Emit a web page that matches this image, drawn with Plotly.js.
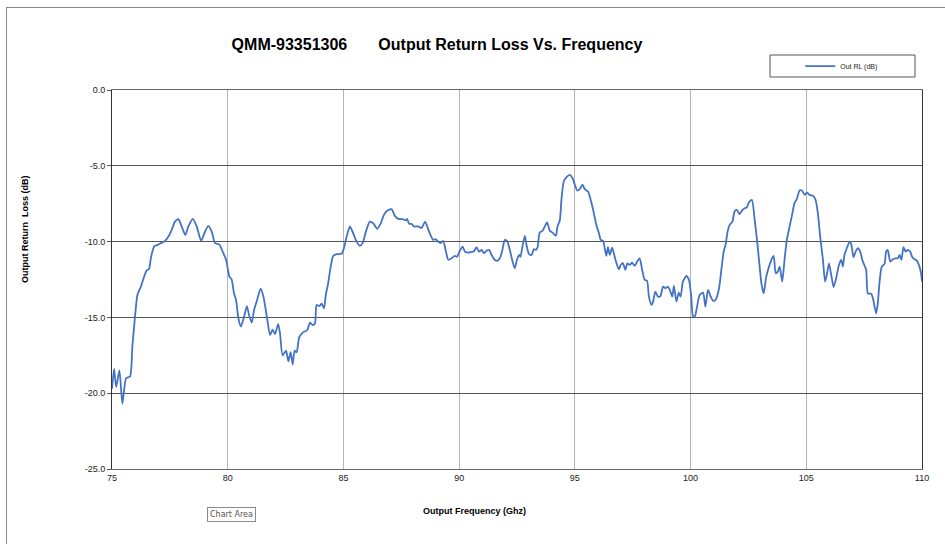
<!DOCTYPE html>
<html>
<head>
<meta charset="utf-8">
<script src="https://cdn.plot.ly/plotly-3.0.1.min.js"></script>
<style>
  html, body { margin: 0; padding: 0; background: #ffffff; }
  #chart { width: 945px; height: 544px; position: relative; }
  #frame { position: absolute; left: 6px; top: 7px; width: 960px; height: 560px;
           border-left: 1px solid #8a8a8a; border-top: 1px solid #8a8a8a; pointer-events: none; }
</style>
</head>
<body>
<div id="chart"></div>
<div id="frame"></div>
<script>
// Frequency (GHz)
const freq = [
  75.00, 75.09, 75.18, 75.32, 75.45, 75.61, 75.78, 75.88, 75.98, 76.10,
  76.24, 76.39, 76.50, 76.60, 76.69, 76.83, 77.00, 77.15, 77.26, 77.44,
  77.58, 77.72, 77.87, 78.01, 78.17, 78.30, 78.49, 78.66, 78.85, 78.99,
  79.16, 79.31, 79.45, 79.64, 79.78, 79.93, 80.07, 80.17, 80.27, 80.36,
  80.46, 80.57, 80.70, 80.83, 80.92, 81.04, 81.14, 81.25, 81.42, 81.54,
  81.68, 81.83, 81.94, 82.04, 82.18, 82.26, 82.37, 82.52, 82.62, 82.72,
  82.81, 82.89, 82.98, 83.09, 83.24, 83.44, 83.55, 83.67, 83.77, 83.84,
  83.96, 84.06, 84.16, 84.24, 84.34, 84.45, 84.56, 84.71, 84.92, 85.02,
  85.14, 85.28, 85.42, 85.57, 85.71, 85.83, 85.97, 86.14, 86.29, 86.46,
  86.61, 86.75, 86.89, 87.08, 87.22, 87.37, 87.56, 87.70, 87.75, 87.84,
  87.94, 88.04, 88.23, 88.38, 88.53, 88.70, 88.88, 88.98, 89.09, 89.20,
  89.31, 89.43, 89.53, 89.67, 89.81, 89.91, 90.03, 90.15, 90.25, 90.39,
  90.54, 90.63, 90.75, 90.86, 90.97, 91.07, 91.18, 91.30, 91.40, 91.54,
  91.64, 91.76, 91.87, 91.97, 92.07, 92.19, 92.29, 92.40, 92.50, 92.59,
  92.65, 92.74, 92.84, 92.91, 93.02, 93.13, 93.23, 93.31, 93.39, 93.48,
  93.60, 93.70, 93.80, 93.92, 94.03, 94.18, 94.25, 94.35, 94.42, 94.52,
  94.64, 94.78, 94.90, 95.00, 95.10, 95.21, 95.33, 95.43, 95.57, 95.72,
  95.82, 95.93, 96.04, 96.12, 96.22, 96.29, 96.36, 96.43, 96.51, 96.61,
  96.72, 96.80, 96.90, 96.98, 97.08, 97.18, 97.27, 97.37, 97.47, 97.59,
  97.69, 97.80, 97.91, 98.02, 98.12, 98.20, 98.31, 98.38, 98.48, 98.59,
  98.70, 98.81, 98.92, 99.02, 99.13, 99.21, 99.28, 99.39, 99.49, 99.57,
  99.67, 99.82, 99.93, 100.03, 100.10, 100.18, 100.28, 100.39, 100.54, 100.64,
  100.75, 100.86, 100.97, 101.08, 101.23, 101.33, 101.43, 101.52, 101.60, 101.69,
  101.81, 101.90, 102.00, 102.12, 102.24, 102.34, 102.43, 102.52, 102.65, 102.77,
  102.87, 102.95, 103.06, 103.16, 103.27, 103.39, 103.49, 103.59, 103.68, 103.77,
  103.85, 103.96, 104.06, 104.16, 104.28, 104.40, 104.49, 104.59, 104.71, 104.81,
  104.93, 105.03, 105.14, 105.29, 105.40, 105.50, 105.60, 105.72, 105.81, 105.90,
  105.98, 106.09, 106.18, 106.29, 106.41, 106.51, 106.58, 106.65, 106.75, 106.87,
  106.94, 107.04, 107.13, 107.23, 107.33, 107.42, 107.52, 107.59, 107.66, 107.81,
  107.88, 107.95, 108.02, 108.09, 108.16, 108.26, 108.38, 108.45, 108.52, 108.63,
  108.74, 108.86, 108.96, 109.03, 109.11, 109.20, 109.29, 109.39, 109.49, 109.58,
  109.68, 109.78, 109.89, 109.96, 110.00
];
// Output return loss (dB)
const outRL = [
  -19.7, -18.4, -19.6, -18.5, -20.7, -19.0, -18.9, -16.9, -15.2, -13.5,
  -13.0, -12.3, -11.9, -11.8, -11.0, -10.3, -10.2, -10.07, -10.0, -9.67,
  -9.23, -8.68, -8.52, -9.0, -9.56, -9.0, -8.5, -9.0, -9.95, -9.45,
  -8.96, -9.34, -10.1, -10.2, -10.66, -11.2, -12.3, -12.5, -13.4, -13.85,
  -15.06, -15.6, -15.0, -14.25, -14.84, -15.35, -14.5, -13.96, -13.1, -13.6,
  -14.84, -16.16, -15.8, -16.1, -15.44, -16.05, -17.5, -17.2, -17.9, -17.3,
  -18.1, -17.2, -17.3, -16.3, -16.0, -15.83, -15.35, -15.5, -15.4, -14.18,
  -14.25, -14.1, -14.4, -13.5, -12.75, -11.65, -10.94, -10.83, -10.8, -10.44,
  -9.67, -9.0, -9.45, -10.0, -10.28, -10.1, -9.34, -8.68, -8.8, -9.16,
  -8.8, -8.24, -7.97, -7.86, -8.3, -8.5, -8.52, -8.6, -8.5, -8.83,
  -8.83, -9.0, -9.0, -9.1, -8.68, -9.34, -9.89, -9.84, -10.0, -10.1,
  -9.95, -10.66, -11.2, -11.1, -10.94, -11.0, -10.6, -10.33, -10.66, -10.73,
  -10.68, -10.66, -10.37, -10.66, -10.55, -10.77, -10.6, -10.55, -10.88, -11.2,
  -11.27, -11.1, -10.55, -9.89, -9.95, -10.55, -11.2, -11.76, -11.2, -10.88,
  -11.0, -10.28, -9.62, -10.22, -10.83, -10.88, -10.5, -10.55, -10.37, -9.4,
  -9.29, -9.0, -8.74, -9.29, -9.4, -9.62, -9.0, -8.61, -7.25, -6.04,
  -5.75, -5.6, -5.81, -6.25, -6.63, -6.54, -6.25, -6.54, -6.7, -7.46,
  -8.12, -8.9, -9.45, -9.89, -9.95, -10.44, -10.94, -10.37, -10.88, -10.4,
  -11.0, -11.43, -11.83, -11.54, -11.43, -11.87, -11.43, -11.54, -11.39, -11.6,
  -11.32, -11.1, -11.87, -12.53, -12.58, -13.63, -14.18, -13.96, -13.3, -13.63,
  -13.59, -12.97, -13.08, -12.97, -13.3, -13.63, -12.93, -13.96, -13.37, -13.63,
  -12.64, -12.27, -12.53, -13.63, -14.9, -14.95, -14.29, -13.52, -13.37, -14.29,
  -13.19, -13.59, -13.9, -13.85, -13.08, -11.87, -10.66, -10.15, -9.34, -8.9,
  -8.68, -8.02, -7.91, -8.19, -7.91, -7.8, -7.75, -7.4, -7.25, -8.57,
  -9.89, -11.1, -12.75, -13.41, -12.31, -11.65, -11.2, -10.94, -12.09, -11.98,
  -11.65, -12.64, -11.2, -9.89, -9.0, -8.12, -7.46, -7.2, -6.63, -6.63,
  -6.92, -6.76, -6.92, -6.98, -7.25, -8.12, -9.67, -11.2, -12.64, -12.09,
  -11.43, -12.31, -13.0, -12.42, -11.54, -11.2, -11.65, -10.88, -10.44, -10.0,
  -10.15, -11.03, -10.66, -10.44, -10.66, -11.2, -11.6, -11.87, -13.41, -13.45,
  -13.74, -14.29, -14.73, -14.07, -12.75, -11.65, -11.47, -10.66, -10.55, -11.32,
  -11.16, -11.1, -11.1, -10.88, -11.2, -10.37, -10.66, -10.55, -10.66, -11.03,
  -11.16, -11.25, -11.65, -12.09, -12.64
];
const xTicks = [75, 80, 85, 90, 95, 100, 105, 110];
const yTicks = [-25, -20, -15, -10, -5, 0];
const yTickText = ["-25.0", "-20.0", "-15.0", "-10.0", "-5.0", "0.0"];

const font = "Liberation Sans, Arial, sans-serif";

const data = [{
  x: freq,
  y: outRL,
  type: "scatter",
  mode: "lines",
  name: "Out RL (dB)",
  line: { color: "#4472C4", width: 1.8, shape: "spline", smoothing: 0.6 }
}];

const layout = {
  width: 945,
  height: 544,
  margin: { l: 112, r: 23, t: 90, b: 75 },
  paper_bgcolor: "#ffffff",
  plot_bgcolor: "#ffffff",
  font: { family: font, color: "#222" },
  title: {
    text: "<b>QMM-93351306\u00a0\u00a0\u00a0\u00a0\u00a0\u00a0\u00a0Output Return Loss Vs. Frequency</b>",
    font: { family: font, size: 16, color: "#000" },
    xref: "container", x: 437 / 945, xanchor: "center",
    yref: "container", y: 1 - 44 / 544, yanchor: "middle"
  },
  showlegend: true,
  legend: {
    x: 0.8497, xanchor: "left", y: 1.063, yanchor: "middle",
    bgcolor: "rgba(0,0,0,0)", borderwidth: 0,
    font: { family: font, size: 7, color: "#222" },
    itemwidth: 30
  },
  xaxis: {
    range: [75, 110],
    tickvals: xTicks,
    ticktext: xTicks.map(String),
    showgrid: true, gridcolor: "#b4b4b4", gridwidth: 1,
    zeroline: false,
    showline: true, linecolor: "#666", linewidth: 1, mirror: true,
    ticks: "", tickfont: { family: font, size: 9, color: "#222" },
    fixedrange: true
  },
  yaxis: {
    range: [-25, 0],
    tickvals: yTicks,
    ticktext: yTickText,
    showgrid: true, gridcolor: "#555", gridwidth: 1,
    zeroline: false,
    showline: true, linecolor: "#333", linewidth: 1, mirror: true,
    ticks: "outside", ticklen: 4, tickcolor: "#555",
    tickfont: { family: font, size: 9, color: "#222" },
    fixedrange: true
  },
  shapes: [{
    type: "rect", xref: "paper", yref: "paper",
    x0: (770 - 112) / 810, x1: (915 - 112) / 810,
    y0: (469 - 77) / 379, y1: (469 - 55) / 379,
    line: { color: "#555", width: 1 }, fillcolor: "rgba(0,0,0,0)"
  }],
  annotations: [
    {
      text: "<b>Output Frequency (Ghz)</b>",
      xref: "paper", yref: "paper", x: (474 - 112) / 810, y: (469 - 511) / 379,
      xanchor: "center", yanchor: "middle", showarrow: false,
      font: { family: font, size: 9, color: "#000" }
    },
    {
      text: "<b>Output Return  Loss (dB)</b>",
      xref: "paper", yref: "paper", x: (25 - 112) / 810, y: (469 - 229) / 379,
      xanchor: "center", yanchor: "middle", showarrow: false, textangle: -90,
      font: { family: font, size: 9, color: "#000" }
    },
    {
      text: "Chart Area",
      xref: "paper", yref: "paper", x: (231.5 - 112) / 810, y: (469 - 514.5) / 379,
      xanchor: "center", yanchor: "middle", showarrow: false,
      bgcolor: "#ffffff", bordercolor: "#8a8a8a", borderwidth: 1, borderpad: 2,
      font: { family: "DejaVu Sans, sans-serif", size: 8, color: "#555" }
    }
  ]
};

Plotly.newPlot("chart", data, layout, { displayModeBar: false, staticPlot: true });
</script>
</body>
</html>
